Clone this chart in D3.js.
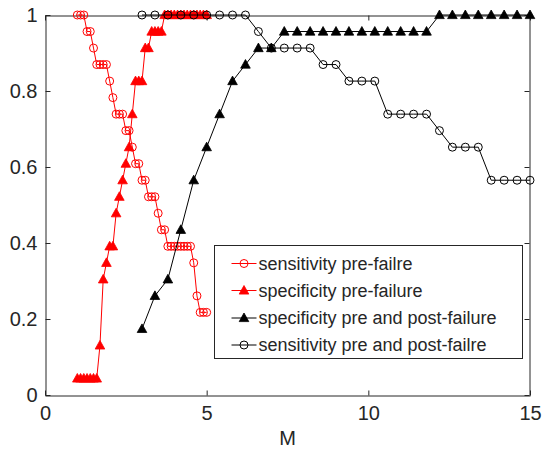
<!DOCTYPE html>
<html>
<head>
<meta charset="utf-8">
<script src="https://cdn.jsdelivr.net/npm/d3@7"></script>
<style>
  body { margin: 0; background: #fff; }
  text { font-family: "Liberation Sans", Arial, sans-serif; fill: #262626; }
</style>
</head>
<body>
<div id="chart"></div>
<script>
// M values of the two runs
var xPre = [1.0, 1.1, 1.2, 1.3, 1.4, 1.5, 1.6, 1.7, 1.8, 1.9,
            2.0, 2.1, 2.2, 2.3, 2.4, 2.5, 2.6, 2.7, 2.8, 2.9,
            3.0, 3.1, 3.2, 3.3, 3.4, 3.5, 3.6, 3.7, 3.8, 3.9,
            4.0, 4.1, 4.2, 4.3, 4.4, 4.5, 4.6, 4.7, 4.8, 4.9, 5.0];
var xPost = [3.0, 3.4, 3.8, 4.2, 4.6, 5.0, 5.4, 5.8, 6.2, 6.6,
             7.0, 7.4, 7.8, 8.2, 8.6, 9.0, 9.4, 9.8, 10.2, 10.6,
             11.0, 11.4, 11.8, 12.2, 12.6, 13.0, 13.4, 13.8, 14.2, 14.6, 15.0];

var sensPre = [1, 1, 1, 0.9565, 0.9565, 0.9130, 0.8696, 0.8696, 0.8696, 0.8696,
               0.8261, 0.7826, 0.7391, 0.7391, 0.7391, 0.6957, 0.6957, 0.6522, 0.6087, 0.6087,
               0.5652, 0.5652, 0.5217, 0.5217, 0.5217, 0.4783, 0.4348, 0.4348, 0.3913, 0.3913,
               0.3913, 0.3913, 0.3913, 0.3913, 0.3913, 0.3913, 0.3478, 0.2609, 0.2174, 0.2174, 0.2174];
var specPre = [0.0435, 0.0435, 0.0435, 0.0435, 0.0435, 0.0435, 0.0435, 0.1304, 0.3043, 0.3478,
               0.3913, 0.3913, 0.4783, 0.5217, 0.5652, 0.6087, 0.6522, 0.7391, 0.8261, 0.8261,
               0.8261, 0.9130, 0.9130, 0.9565, 0.9565, 0.9565, 0.9565, 1, 1, 1,
               1, 1, 1, 1, 1, 1, 1, 1, 1, 1, 1];
var specPost = [0.1739, 0.2609, 0.3043, 0.4348, 0.5652, 0.6522, 0.7391, 0.8261, 0.8696, 0.9130,
                0.9130, 0.9565, 0.9565, 0.9565, 0.9565, 0.9565, 0.9565, 0.9565, 0.9565, 0.9565,
                0.9565, 0.9565, 0.9565, 1, 1, 1, 1, 1, 1, 1, 1];
var sensPost = [1, 1, 1, 1, 1, 1, 1, 1, 1, 0.9565,
                0.9130, 0.9130, 0.9130, 0.9130, 0.8696, 0.8696, 0.8261, 0.8261, 0.8261, 0.7391,
                0.7391, 0.7391, 0.7391, 0.6957, 0.6522, 0.6522, 0.6522, 0.5652, 0.5652, 0.5652, 0.5652];

var seriesNames = ["sensitivity pre-failre", "specificity pre-failure",
                   "specificity pre and post-failure", "sensitivity pre and post-failre"];
var xTicks = [0, 5, 10, 15];
var yTicks = [0, 0.2, 0.4, 0.6, 0.8, 1];
var xLabel = "M";

var width = 544, height = 451;
var axisColor = "#262626";

var series = [
    {name: seriesNames[0], xs: xPre, ys: sensPre, color: "#ff0000", marker: "circle"},
    {name: seriesNames[1], xs: xPre, ys: specPre, color: "#ff0000", marker: "triangle"},
    {name: seriesNames[2], xs: xPost, ys: specPost, color: "#000000", marker: "triangle"},
    {name: seriesNames[3], xs: xPost, ys: sensPost, color: "#000000", marker: "circle"}
];

var xScale = d3.scaleLinear().domain([0, 15]).range([45, 530]);
var yScale = d3.scaleLinear().domain([0, 1]).range([395, 15]);

var svg = d3.select("#chart")
    .append("svg")
    .attr("width", width)
    .attr("height", height);

var triPath = "M0,-5L4.8,3.6L-4.8,3.6Z";

function drawMarker(g, s) {
    if (s.marker == "circle") {
        g.append("circle")
            .attr("r", 4)
            .attr("fill", "none")
            .attr("stroke", s.color)
            .attr("stroke-width", 1);
    } else {
        g.append("path")
            .attr("d", triPath)
            .attr("fill", s.color)
            .attr("stroke", s.color)
            .attr("stroke-width", 0.8);
    }
}

// axes, with the box round the plot
function styleAxis(g) {
    g.select(".domain").attr("stroke", axisColor).attr("stroke-width", 1);
    g.selectAll(".tick line").attr("stroke", axisColor).attr("stroke-width", 1);
    g.selectAll(".tick text").style("font-size", "20px").attr("fill", axisColor);
}

svg.append("g")
    .attr("transform", "translate(0,395.5)")
    .call(d3.axisBottom(xScale).tickValues(xTicks).tickFormat(d3.format("d"))
        .tickSizeInner(-5).tickSizeOuter(0).tickPadding(10))
    .call(styleAxis);

svg.append("g")
    .attr("transform", "translate(0,15.5)")
    .call(d3.axisTop(xScale).tickValues(xTicks).tickFormat("")
        .tickSizeInner(-5).tickSizeOuter(0))
    .call(styleAxis);

svg.append("g")
    .attr("transform", "translate(45.5,0)")
    .call(d3.axisLeft(yScale).tickValues(yTicks).tickFormat(function(d) { return String(+d.toFixed(1)); })
        .tickSizeInner(-5).tickSizeOuter(0).tickPadding(8))
    .call(styleAxis);

svg.append("g")
    .attr("transform", "translate(529.5,0)")
    .call(d3.axisRight(yScale).tickValues(yTicks).tickFormat("")
        .tickSizeInner(-5).tickSizeOuter(0))
    .call(styleAxis);

svg.append("text")
    .attr("x", (xScale(0) + xScale(15)) / 2)
    .attr("y", 445)
    .attr("text-anchor", "middle")
    .style("font-size", "20px")
    .text(xLabel);

// the four series
series.forEach(function(s) {
    var pts = s.xs.map(function(x, i) { return [x, s.ys[i]]; });
    var line = d3.line()
        .x(function(d) { return xScale(d[0]); })
        .y(function(d) { return yScale(d[1]); });

    svg.append("path")
        .datum(pts)
        .attr("d", line)
        .attr("fill", "none")
        .attr("stroke", s.color)
        .attr("stroke-width", 1);

    svg.append("g").selectAll("g")
        .data(pts)
        .enter().append("g")
        .attr("transform", function(d) { return "translate(" + xScale(d[0]) + "," + yScale(d[1]) + ")"; })
        .each(function() { drawMarker(d3.select(this), s); });
});

// legend
var legend = svg.append("g").attr("transform", "translate(214.5,245.5)");
legend.append("rect")
    .attr("width", 308)
    .attr("height", 113)
    .attr("fill", "#fff")
    .attr("stroke", axisColor)
    .attr("stroke-width", 1);

var rowY = [18, 45, 72.5, 99.5];
series.forEach(function(s, i) {
    var row = legend.append("g").attr("transform", "translate(0," + rowY[i] + ")");
    row.append("line")
        .attr("x1", 17).attr("x2", 42)
        .attr("stroke", s.color)
        .attr("stroke-width", 1);
    drawMarker(row.append("g").attr("transform", "translate(29.5,0)"), s);
    row.append("text")
        .attr("x", 44)
        .attr("dy", "0.35em")
        .style("font-size", "18px")
        .attr("fill", "#000")
        .text(s.name);
});
</script>
</body>
</html>
